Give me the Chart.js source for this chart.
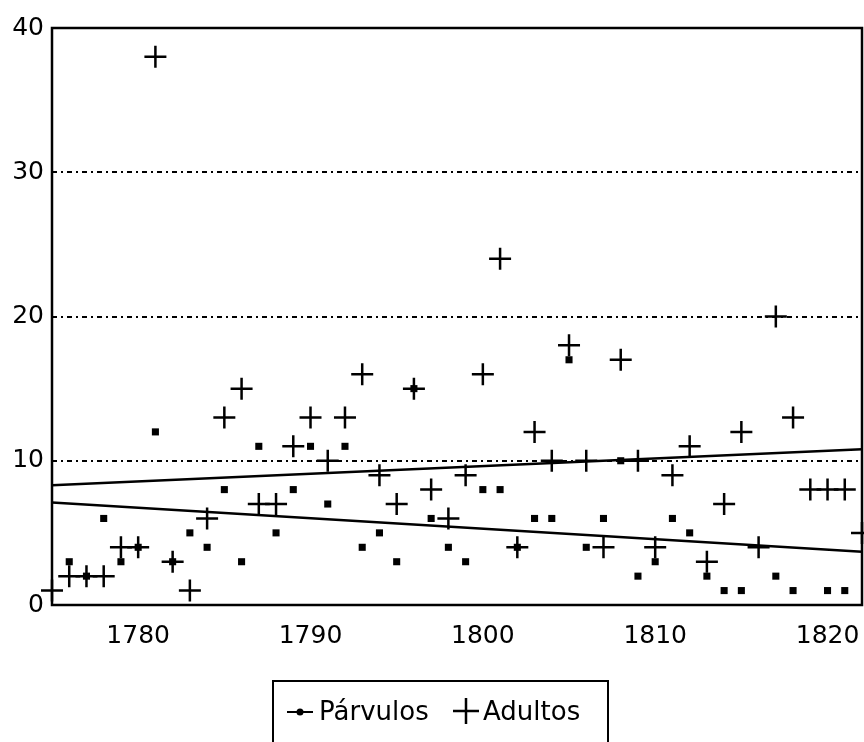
<!DOCTYPE html>
<html>
<head>
<meta charset="utf-8">
<script src="https://cdn.jsdelivr.net/npm/chart.js@4/dist/chart.umd.min.js"></script>
<style>
  html, body { margin: 0; padding: 0; background: #fff; }
  #wrap { width: 864px; height: 742px; }
</style>
</head>
<body>
<div id="wrap"><canvas id="chart" width="864" height="742"></canvas></div>
<script>
const adultosYears = [1775, 1776, 1777, 1778, 1779, 1780, 1781, 1782, 1783, 1784, 1785, 1786,
  1787, 1788, 1789, 1790, 1791, 1792, 1793, 1794, 1795, 1796, 1797, 1798, 1799, 1800, 1801,
  1802, 1803, 1804, 1805, 1806, 1807, 1808, 1809, 1810, 1811, 1812, 1813, 1814, 1815, 1816,
  1817, 1818, 1819, 1820, 1821, 1822];
const adultosValues = [1, 2, 2, 2, 4, 4, 38, 3, 1, 6, 13, 15,
  7, 7, 11, 13, 10, 13, 16, 9, 7, 15, 8, 6, 9, 16, 24,
  4, 12, 10, 18, 10, 4, 17, 10, 4, 9, 11, 3, 7, 12, 4,
  20, 13, 8, 8, 8, 5];

const parvulosYears = [1776, 1777, 1778, 1779, 1780, 1781, 1782, 1783, 1784, 1785, 1786,
  1787, 1788, 1789, 1790, 1791, 1792, 1793, 1794, 1795, 1796, 1797, 1798, 1799, 1800, 1801,
  1802, 1803, 1804, 1805, 1806, 1807, 1808, 1809, 1810, 1811, 1812, 1813, 1814, 1815,
  1817, 1818, 1820, 1821];
const parvulosValues = [3, 2, 6, 3, 4, 12, 3, 5, 4, 8, 3,
  11, 5, 8, 11, 7, 11, 4, 5, 3, 15, 6, 4, 3, 8, 8,
  4, 6, 6, 17, 4, 6, 10, 2, 3, 6, 5, 2, 1, 1,
  2, 1, 1, 1];

// trend lines at both ends
const trendYears = [1775, 1822];
const trendAdultos = [8.3, 10.8];
const trendParvulos = [7.1, 3.7];

const xTicks = [1780, 1790, 1800, 1810, 1820];
const yTicks = [0, 10, 20, 30, 40];

const FONT = "DejaVu Sans";

function toPoints(xs, ys) {
  return xs.map((x, i) => ({ x: x, y: ys[i] }));
}

// frame around the plot + the boxed legend below
const framePlugin = {
  id: "frame",
  afterDraw(chart) {
    const ctx = chart.ctx;
    const a = chart.chartArea;
    ctx.save();
    ctx.strokeStyle = "#000";
    ctx.lineWidth = 2.5;
    ctx.strokeRect(a.left, a.top, a.right - a.left, a.bottom - a.top);

    // legend box
    ctx.lineWidth = 2;
    ctx.strokeRect(273, 681, 335, 80);
    const ly = 712;
    ctx.beginPath();
    ctx.moveTo(287, ly);
    ctx.lineTo(313, ly);
    ctx.stroke();
    ctx.fillStyle = "#000";
    ctx.beginPath();
    ctx.arc(300, ly, 3.5, 0, Math.PI * 2);
    ctx.fill();

    ctx.font = "26px '" + FONT + "'";
    ctx.textBaseline = "middle";
    ctx.textAlign = "left";
    ctx.fillText("Párvulos", 319, ly + 1);

    ctx.lineWidth = 2.5;
    ctx.beginPath();
    ctx.moveTo(453, ly - 1);
    ctx.lineTo(479, ly - 1);
    ctx.moveTo(466, ly - 14);
    ctx.lineTo(466, ly + 12);
    ctx.stroke();
    ctx.fillText("Adultos", 483, ly + 1);
    ctx.restore();
  }
};

const ctx = document.getElementById("chart").getContext("2d");

new Chart(ctx, {
  type: "scatter",
  data: {
    datasets: [
      {
        label: "Párvulos",
        data: toPoints(parvulosYears, parvulosValues),
        pointStyle: "rect",
        pointRadius: 5,
        backgroundColor: "#000",
        borderColor: "#000",
        borderWidth: 0,
        clip: false,
      },
      {
        label: "Adultos",
        data: toPoints(adultosYears, adultosValues),
        pointStyle: "cross",
        pointRadius: 11,
        borderColor: "#000",
        borderWidth: 2.5,
        clip: false,
      },
      {
        label: "trendAdultos",
        data: toPoints(trendYears, trendAdultos),
        showLine: true,
        pointRadius: 0,
        borderColor: "#000",
        borderWidth: 2.5,
      },
      {
        label: "trendParvulos",
        data: toPoints(trendYears, trendParvulos),
        showLine: true,
        pointRadius: 0,
        borderColor: "#000",
        borderWidth: 2.5,
      },
    ],
  },
  options: {
    responsive: false,
    animation: false,
    events: [],
    layout: {
      autoPadding: false,
      padding: { top: 28, right: 2, bottom: 92, left: 0 },
    },
    plugins: {
      legend: { display: false },
      tooltip: { enabled: false },
    },
    scales: {
      x: {
        type: "linear",
        min: 1775,
        max: 1822,
        afterBuildTicks: (scale) => {
          scale.ticks = xTicks.map((v) => ({ value: v }));
        },
        afterFit: (scale) => {
          scale.height = 45;
          scale.paddingLeft = 0;
          scale.paddingRight = 0;
        },
        grid: { display: false, drawTicks: false },
        border: { display: false },
        ticks: {
          color: "#000",
          padding: 16,
          maxRotation: 0,
          font: { family: FONT, size: 25 },
          callback: (v) => String(v),
        },
      },
      y: {
        min: 0,
        max: 40,
        afterBuildTicks: (scale) => {
          scale.ticks = yTicks.map((v) => ({ value: v }));
        },
        afterFit: (scale) => {
          scale.width = 52;
          scale.paddingTop = 0;
          scale.paddingBottom = 0;
        },
        grid: {
          drawTicks: false,
          color: (c) => (c.tick && (c.tick.value === 0 || c.tick.value === 40) ? "rgba(0,0,0,0)" : "#000"),
          lineWidth: 2,
        },
        border: { display: false, dash: [5, 4, 2, 4] },
        ticks: {
          color: "#000",
          padding: 8,
          font: { family: FONT, size: 25 },
        },
      },
    },
  },
  plugins: [framePlugin],
});
</script>
</body>
</html>
